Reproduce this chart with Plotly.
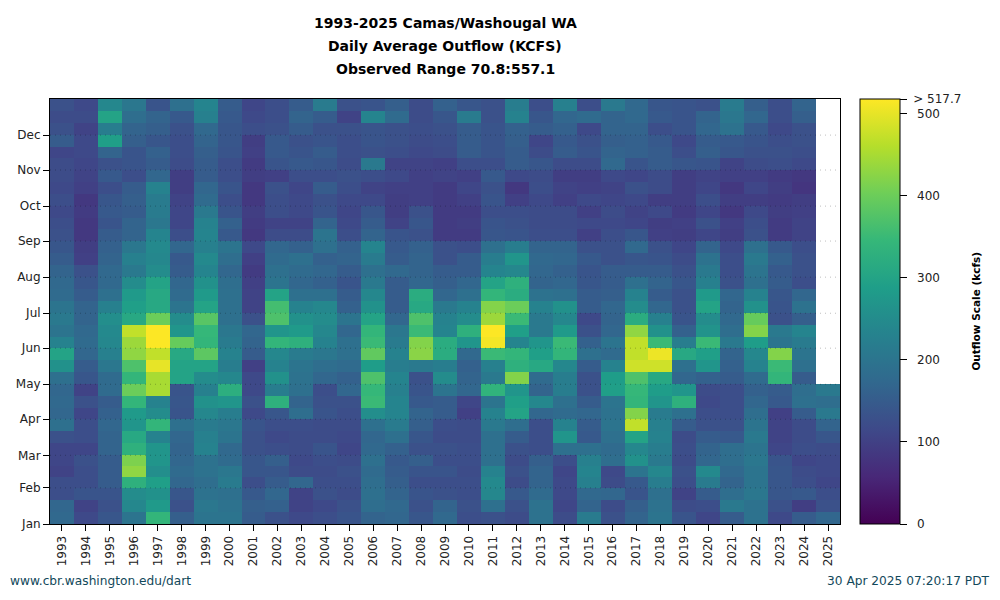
import numpy as np
import plotly.graph_objects as go

# rows run from early January upward, three per month
years = [str(y) for y in range(1993, 2026)]
month_names = ["Jan", "Feb", "Mar", "Apr", "May", "Jun", "Jul", "Aug", "Sep", "Oct", "Nov", "Dec"]
month_days = [0, 31, 59, 90, 120, 151, 181, 212, 243, 273, 304, 334, 365]
scale_ticks = [0, 100, 200, 300, 400, 500, 517.7]
# no standoff setting on the colorbar, non-breaking spaces push the labels out
scale_labels = ["\u00a0\u00a00", "\u00a0\u00a0100", "\u00a0\u00a0200", "\u00a0\u00a0300", "\u00a0\u00a0400", "\u00a0\u00a0500", "\u00a0> 517.7"]
title_lines = ["1993-2025 Camas/Washougal WA", "Daily Average Outflow (KCFS)", "Observed Range 70.8:557.1"]

flow_1993 = [175,170,125, 125,105,110, 110,130,190, 170,175,170, 190,260,300, 230,200,210, 200,180,175, 165,150,140, 130,125,115, 125,115,120, 120,110,150, 130,120,130]
flow_1994 = [115,105,135, 125,125,130, 110,125,125, 110,130,105, 140,150,170, 180,175,165, 165,150,140, 130,100,95, 85,85,90, 85,100,105, 110,115,115, 105,120,115]
flow_1995 = [140,130,135, 150,150,150, 165,165,170, 160,150,180, 180,205,225, 240,245,255, 225,190,175, 175,165,160, 150,135,145, 140,125,145, 130,165,290, 220,300,240]
flow_1996 = [200,240,250, 330,430,415, 330,310,270, 280,340,400, 340,370,430, 440,470,310, 290,280,250, 210,225,205, 165,165,150, 155,150,125, 135,135,155, 165,185,205]
flow_1997 = [340,280,260, 290,255,270, 270,230,340, 250,230,450, 450,500,470, 517,517,400, 310,310,300, 250,240,245, 235,205,215, 215,230,170, 150,160,140, 155,165,135]
flow_1998 = [155,130,140, 170,180,170, 165,170,190, 135,140,135, 300,300,310, 395,270,250, 200,180,170, 150,145,170, 125,110,110, 105,95,95, 120,125,125, 130,145,190]
flow_1999 = [200,205,195, 185,195,195, 230,225,215, 240,260,225, 250,300,385, 340,345,380, 300,280,260, 235,245,225, 235,230,210, 180,170,150, 150,155,165, 175,225,235]
flow_2000 = [200,195,190, 215,205,180, 175,200,205, 220,270,325, 240,220,230, 215,205,190, 190,190,185, 170,185,200, 145,160,135, 125,135,125, 125,135,140, 140,145,150]
flow_2001 = [150,155,145, 125,140,140, 130,130,135, 115,130,115, 115,100,150, 165,170,130, 105,105,100, 90,100,115, 85,90,95, 85,85,95, 90,100,95, 125,115,110]
flow_2002 = [130,160,170, 150,140,155, 125,115,125, 140,330,220, 260,230,240, 340,270,370, 360,300,200, 190,180,170, 120,105,125, 125,130,100, 135,145,145, 130,125,125]
flow_2003 = [115,105,105, 170,120,115, 120,120,125, 185,165,190, 195,200,215, 330,280,260, 230,190,170, 180,190,160, 120,105,115, 115,110,125, 145,135,130, 150,165,150]
flow_2004 = [125,115,130, 125,120,125, 135,120,120, 135,130,125, 170,185,205, 230,240,250, 240,190,160, 170,160,190, 200,165,135, 130,150,125, 140,150,135, 130,150,215]
flow_2005 = [135,130,120, 125,130,120, 110,115,120, 125,130,170, 160,180,190, 190,170,200, 160,150,135, 150,165,160, 125,115,110, 115,125,130, 120,125,125, 130,105,130]
flow_2006 = [165,185,190, 185,180,190, 175,170,190, 255,350,345, 370,285,390, 350,340,300, 260,240,210, 190,215,235, 165,150,140, 115,105,125, 210,130,135, 135,235,135]
flow_2007 = [170,175,165, 155,150,145, 160,190,215, 235,235,225, 235,220,230, 215,205,170, 150,150,150, 175,150,145, 135,105,95, 95,100,115, 105,125,130, 130,180,155]
flow_2008 = [140,130,135, 125,135,155, 130,140,155, 165,145,135, 130,210,425, 420,350,370, 310,320,170, 165,165,160, 130,140,130, 100,100,100, 105,115,120, 125,120,120]
flow_2009 = [175,165,130, 125,135,125, 130,120,125, 150,150,200, 250,220,320, 320,235,230, 210,170,155, 150,130,130, 90,90,90, 90,90,105, 100,120,125, 130,140,160]
flow_2010 = [125,130,125, 125,120,125, 125,120,120, 100,110,170, 165,160,175, 270,330,250, 230,190,170, 150,150,125, 90,95,90, 100,110,100, 125,150,150, 150,215,140]
flow_2011 = [130,190,240, 245,230,190, 190,190,210, 230,200,335, 210,225,350, 510,517,440, 420,340,300, 235,220,190, 140,135,125, 135,130,145, 125,135,135, 135,130,130]
flow_2012 = [120,130,145, 120,130,120, 130,150,185, 300,290,270, 420,330,340, 235,290,350, 400,320,330, 240,270,220, 135,130,125, 100,85,115, 150,150,155, 160,230,220]
flow_2013 = [195,195,180, 165,165,155, 125,125,125, 170,240,165, 180,310,290, 270,210,210, 230,195,165, 170,175,165, 125,120,120, 115,125,120, 140,120,110, 150,140,125]
flow_2014 = [120,110,115, 115,110,125, 190,270,230, 180,190,220, 220,240,340, 350,280,240, 260,190,170, 160,170,165, 125,120,120, 100,105,95, 120,150,145, 160,170,225]
flow_2015 = [215,165,175, 225,235,225, 190,145,150, 170,150,130, 130,150,190, 160,130,115, 150,150,140, 135,145,130, 100,115,100, 115,100,95, 120,135,130, 115,180,125]
flow_2016 = [130,120,170, 120,115,185, 180,190,200, 195,200,290, 285,230,180, 200,170,165, 170,155,150, 150,130,130, 125,115,120, 110,105,115, 175,165,155, 165,165,210]
flow_2017 = [165,155,135, 145,200,260, 240,300,470, 420,340,345, 370,480,470, 470,430,320, 250,230,190, 150,140,175, 140,110,105, 115,130,110, 135,160,160, 165,175,175]
flow_2018 = [200,195,190, 220,240,210, 220,230,225, 215,270,285, 310,480,505, 350,260,225, 170,150,165, 150,135,130, 100,95,115, 95,120,120, 150,150,145, 125,145,140]
flow_2019 = [135,120,105, 125,130,120, 125,120,150, 190,330,270, 170,190,310, 220,160,135, 130,130,140, 130,120,110, 95,100,90, 95,95,95, 140,125,115, 135,135,135]
flow_2020 = [110,125,150, 215,245,170, 165,150,130, 125,115,120, 160,270,290, 350,265,250, 300,280,225, 210,195,165, 110,130,110, 125,110,105, 135,155,150, 170,165,130]
flow_2021 = [150,210,185, 165,175,185, 185,145,130, 125,125,125, 150,160,165, 210,185,175, 165,170,130, 125,125,115, 95,100,85, 95,85,100, 105,140,145, 195,205,215]
flow_2022 = [195,195,205, 200,200,205, 200,210,200, 185,170,160, 180,230,240, 285,420,395, 260,230,190, 200,210,190, 130,125,115, 95,110,100, 120,130,135, 145,170,155]
flow_2023 = [115,130,140, 140,140,135, 110,105,105, 100,145,150, 340,350,420, 200,210,130, 135,140,150, 145,160,145, 90,90,95, 90,95,90, 125,130,125, 115,125,125]
flow_2024 = [150,95,145, 125,120,110, 125,120,120, 150,190,185, 150,190,200, 215,235,155, 195,170,125, 130,130,125, 105,105,100, 95,80,85, 115,125,130, 130,155,165]
flow_2025 = [170,130,125, 110,115,115, 120,140,165, 210,185,210]

all_flows = [
    flow_1993, flow_1994, flow_1995, flow_1996, flow_1997, flow_1998, flow_1999, flow_2000,
    flow_2001, flow_2002, flow_2003, flow_2004, flow_2005, flow_2006, flow_2007, flow_2008,
    flow_2009, flow_2010, flow_2011, flow_2012, flow_2013, flow_2014, flow_2015, flow_2016,
    flow_2017, flow_2018, flow_2019, flow_2020, flow_2021, flow_2022, flow_2023, flow_2024,
    flow_2025,
]

# each month split in three, given as row edges
row_edges = []
for start, end in zip(month_days[:-1], month_days[1:]):
    row_edges += [start + (end - start) * k / 3 for k in range(3)]
row_edges.append(month_days[-1])

z = np.full((len(row_edges) - 1, len(years)), np.nan)
for col, flow in enumerate(all_flows):
    z[: len(flow), col] = flow

font = "DejaVu Sans"
footer_color = "#12485a"

fig = go.Figure()

fig.add_trace(
    go.Heatmap(
        x=years,
        y=row_edges,
        z=z,
        zmin=0,
        zmax=517.7,
        colorscale="Viridis",
        hoverongaps=False,
        colorbar=dict(
            x=1.0253,
            xanchor="left",
            xpad=0,
            y=0,
            yanchor="bottom",
            ypad=0,
            len=1,
            thickness=40,
            outlinecolor="black",
            outlinewidth=1,
            tickmode="array",
            tickvals=scale_ticks,
            ticktext=scale_labels,
            ticks="outside",
            ticklen=7,
            tickcolor="black",
            tickfont=dict(family=font, size=12, color="#222"),
        ),
    )
)

# dotted month lines sit on top of the cells
for day in month_days[1:-1]:
    fig.add_shape(
        type="line",
        xref="paper",
        x0=0,
        x1=1,
        yref="y",
        y0=day,
        y1=day,
        line=dict(color="rgba(0,0,0,0.25)", width=1, dash="1px,4px"),
    )

for i, line in enumerate(title_lines):
    fig.add_annotation(
        text=f"<b>{line}</b>",
        xref="paper",
        yref="paper",
        x=0.5,
        y=1.179 - i * 0.054,
        yanchor="middle",
        showarrow=False,
        font=dict(family=font, size=14, color="black"),
    )

fig.add_annotation(
    text="<b>Outflow Scale (kcfs)</b>",
    xref="paper",
    yref="paper",
    x=1.171,
    y=0.5,
    xanchor="center",
    yanchor="middle",
    textangle=-90,
    showarrow=False,
    font=dict(family=font, size=10.5, color="black"),
)
fig.add_annotation(
    text="www.cbr.washington.edu/dart",
    xref="paper",
    yref="paper",
    x=-0.0531,
    xanchor="left",
    y=-0.134,
    yanchor="middle",
    showarrow=False,
    font=dict(family=font, size=12.2, color=footer_color),
)
fig.add_annotation(
    text="30 Apr 2025 07:20:17 PDT",
    xref="paper",
    yref="paper",
    x=1.1925,
    xanchor="right",
    y=-0.134,
    yanchor="middle",
    showarrow=False,
    font=dict(family=font, size=12.2, color=footer_color),
)

# the page keeps its 8px body margin, so the figure is that much smaller
fig.update_layout(
    width=992,
    height=592,
    margin=dict(l=42, r=160, t=91, b=76),
    paper_bgcolor="white",
    plot_bgcolor="white",
    showlegend=False,
)
fig.update_xaxes(
    type="category",
    range=[-0.5, len(years) - 0.5],
    automargin=False,
    tickangle=-90,
    ticks="outside",
    ticklen=6,
    tickcolor="black",
    tickfont=dict(family=font, size=12, color="#222"),
    showgrid=False,
    showline=True,
    linecolor="black",
    mirror=True,
)
fig.update_yaxes(
    range=[0, 365],
    automargin=False,
    tickmode="array",
    tickvals=month_days[:-1],
    ticktext=month_names,
    ticks="outside",
    ticklen=6,
    tickcolor="black",
    tickfont=dict(family=font, size=12, color="#222"),
    showgrid=False,
    zeroline=False,
    showline=True,
    linecolor="black",
    mirror=True,
)

fig.write_html("out.html")
